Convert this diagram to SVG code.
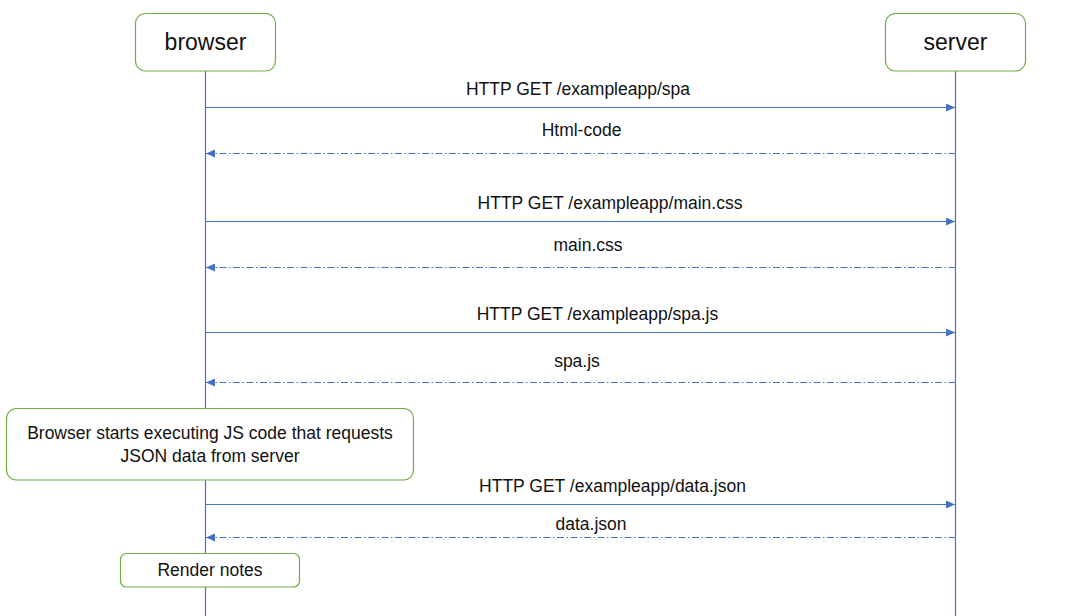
<svg xmlns="http://www.w3.org/2000/svg" width="1069" height="616" viewBox="0 0 1069 616">
<defs>
<marker id="ah" markerWidth="10" markerHeight="8" refX="9" refY="4" orient="auto" markerUnits="userSpaceOnUse">
<path d="M0,0 L9,4 L0,8 Z" fill="#4472C4"/>
</marker>
<style>
.box{fill:#fff;stroke:#70AD47;stroke-width:1.2}
.life{stroke:#4472C4;stroke-width:1.2;fill:none}
.msg{stroke:#4472C4;stroke-width:1.2;fill:none;marker-end:url(#ah)}
.ret{stroke-dasharray:7 2.5 1.5 2.5}
.t{font-family:"Liberation Sans",Arial,sans-serif;font-size:17.5px;fill:#111;text-anchor:middle}
.h{font-size:23px}
</style>
</defs>
<rect width="1069" height="616" fill="#fff"/>
<g id="lifelines">
<line class="life" x1="205.5" y1="71" x2="205.5" y2="616"/>
<line class="life" x1="955.5" y1="71" x2="955.5" y2="616"/>
</g>
<g id="browser">
<rect class="box" x="135.5" y="13.5" width="140" height="57.5" rx="10"/>
<text class="t h" x="205.5" y="50">browser</text>
</g>
<g id="server">
<rect class="box" x="885.5" y="13.5" width="140" height="57.5" rx="10"/>
<text class="t h" x="955.5" y="50">server</text>
</g>
<g id="connectors">
<line class="msg" x1="205.5" y1="107.5" x2="955" y2="107.5"/>
<text class="t" x="578" y="95">HTTP GET /exampleapp/spa</text>
<line class="msg ret" x1="955.5" y1="153.5" x2="206" y2="153.5"/>
<text class="t" x="581.5" y="135.5">Html-code</text>
<line class="msg" x1="205.5" y1="221.5" x2="955" y2="221.5"/>
<text class="t" x="610" y="209">HTTP GET /exampleapp/main.css</text>
<line class="msg ret" x1="955.5" y1="267.5" x2="206" y2="267.5"/>
<text class="t" x="588" y="250.5">main.css</text>
<line class="msg" x1="205.5" y1="332.5" x2="955" y2="332.5"/>
<text class="t" x="597.5" y="320">HTTP GET /exampleapp/spa.js</text>
<line class="msg ret" x1="955.5" y1="382.5" x2="206" y2="382.5"/>
<text class="t" x="577" y="366.5">spa.js</text>
<line class="msg" x1="205.5" y1="504.5" x2="955" y2="504.5"/>
<text class="t" x="612.5" y="491.5">HTTP GET /exampleapp/data.json</text>
<line class="msg ret" x1="955.5" y1="537.5" x2="206" y2="537.5"/>
<text class="t" x="591" y="529.5">data.json</text>
</g>
<g id="note-js">
<rect class="box" x="6.5" y="408.5" width="407" height="71.5" rx="10"/>
<text class="t" x="210" y="439">Browser starts executing JS code that requests</text>
<text class="t" x="210" y="462">JSON data from server</text>
</g>
<g id="note-render">
<rect class="box" x="120.5" y="553.5" width="179" height="33.5" rx="6"/>
<text class="t" x="210" y="576">Render notes</text>
</g>
</svg>
